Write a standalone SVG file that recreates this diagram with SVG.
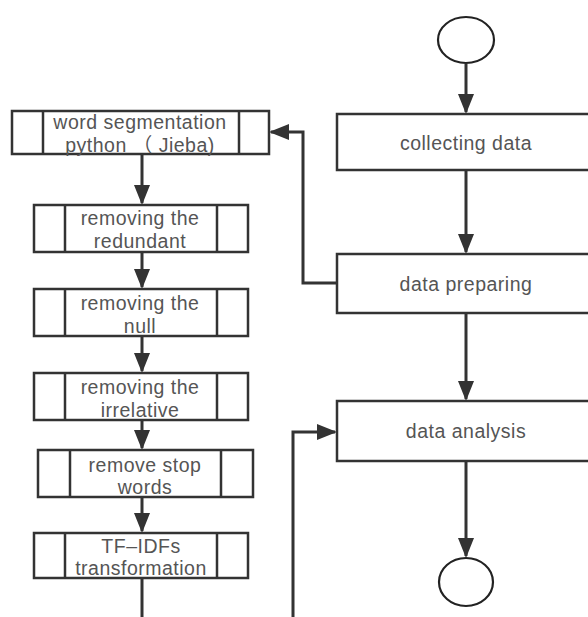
<svg xmlns="http://www.w3.org/2000/svg" width="588" height="617" viewBox="0 0 588 617">
<style>
.box{fill:#fff;stroke:#333;stroke-width:2.5}
.div{stroke:#333;stroke-width:2.5}
.t{font-family:"Liberation Sans","Noto Sans CJK SC",sans-serif;font-size:19.5px;fill:#555;text-anchor:middle;letter-spacing:0.5px}
.c{fill:#fff;stroke:#222;stroke-width:2.2}
.ln{fill:none;stroke:#333;stroke-width:3}
</style>
<defs>
<marker id="ah" markerUnits="userSpaceOnUse" markerWidth="22" markerHeight="18" refX="18" refY="8" orient="auto">
<path d="M0,0 L20,8 L0,16 z" fill="#333"/>
</marker>
</defs>
<rect width="588" height="617" fill="#fff"/>
<g id="connectors">
<path class="ln" d="M466,64 V112" marker-end="url(#ah)"/>
<path class="ln" d="M466,170 V252" marker-end="url(#ah)"/>
<path class="ln" d="M466,313 V399" marker-end="url(#ah)"/>
<path class="ln" d="M466,461 V556" marker-end="url(#ah)"/>
<path class="ln" d="M337,283 H303 V132 H271" marker-end="url(#ah)"/>
<path class="ln" d="M293,617 V432 H335" marker-end="url(#ah)"/>
<path class="ln" d="M142,154 V203" marker-end="url(#ah)"/>
<path class="ln" d="M142,252 V287" marker-end="url(#ah)"/>
<path class="ln" d="M142,336 V371" marker-end="url(#ah)"/>
<path class="ln" d="M142,420 V448" marker-end="url(#ah)"/>
<path class="ln" d="M142,497 V531" marker-end="url(#ah)"/>
<path class="ln" d="M142,578 V617"/>
</g>
<g id="start"><ellipse class="c" cx="466" cy="40" rx="28" ry="23"/></g>
<g id="collecting">
<rect class="box" x="337" y="114" width="262" height="56"/>
<text class="t" x="466" y="150">collecting data</text>
</g>
<g id="preparing">
<rect class="box" x="337" y="254" width="262" height="59"/>
<text class="t" x="466" y="291">data preparing</text>
</g>
<g id="analysis">
<rect class="box" x="337" y="401" width="262" height="60"/>
<text class="t" x="466" y="438">data analysis</text>
</g>
<g id="end"><ellipse class="c" cx="466" cy="582" rx="27" ry="24"/></g>
<g id="seg">
<rect class="box" x="12" y="111" width="257" height="43"/>
<line class="div" x1="43" y1="111" x2="43" y2="154"/>
<line class="div" x1="239" y1="111" x2="239" y2="154"/>
<text class="t" x="140" y="129">word segmentation</text>
<text class="t" x="140" y="152">python （ Jieba)</text>
</g>
<g id="redundant">
<rect class="box" x="34" y="205" width="214" height="47"/>
<line class="div" x1="65" y1="205" x2="65" y2="252"/>
<line class="div" x1="217" y1="205" x2="217" y2="252"/>
<text class="t" x="140" y="225">removing the</text>
<text class="t" x="140" y="248">redundant</text>
</g>
<g id="null">
<rect class="box" x="34" y="289" width="214" height="47"/>
<line class="div" x1="65" y1="289" x2="65" y2="336"/>
<line class="div" x1="217" y1="289" x2="217" y2="336"/>
<text class="t" x="140" y="310">removing the</text>
<text class="t" x="140" y="333">null</text>
</g>
<g id="irrelative">
<rect class="box" x="34" y="373" width="214" height="47"/>
<line class="div" x1="65" y1="373" x2="65" y2="420"/>
<line class="div" x1="217" y1="373" x2="217" y2="420"/>
<text class="t" x="140" y="394">removing the</text>
<text class="t" x="140" y="417">irrelative</text>
</g>
<g id="stopwords">
<rect class="box" x="38" y="450" width="215" height="47"/>
<line class="div" x1="70" y1="450" x2="70" y2="497"/>
<line class="div" x1="221" y1="450" x2="221" y2="497"/>
<text class="t" x="145" y="472">remove stop</text>
<text class="t" x="145" y="494">words</text>
</g>
<g id="tfidf">
<rect class="box" x="34" y="533" width="214" height="45"/>
<line class="div" x1="65" y1="533" x2="65" y2="578"/>
<line class="div" x1="217" y1="533" x2="217" y2="578"/>
<text class="t" x="141" y="553">TF–IDFs</text>
<text class="t" x="141" y="575">transformation</text>
</g>
</svg>
